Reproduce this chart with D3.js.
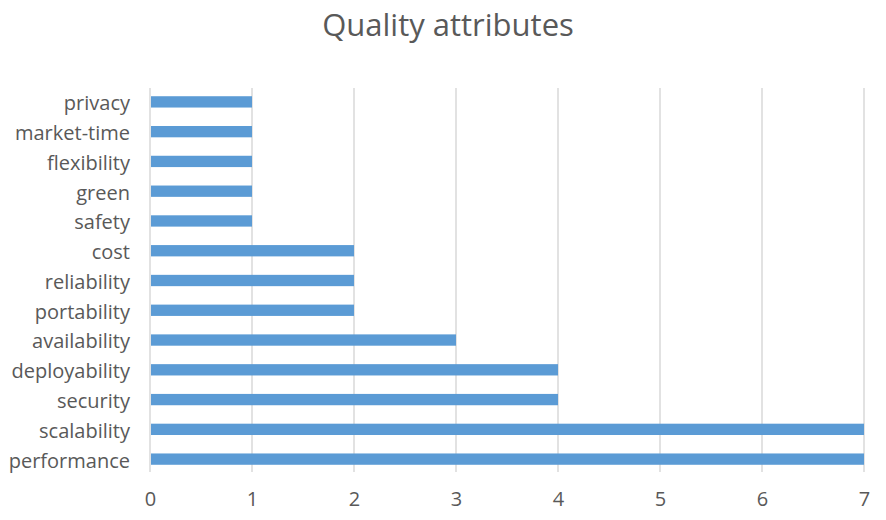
<!DOCTYPE html>
<html>
<head>
<meta charset="utf-8">
<script src="https://cdn.jsdelivr.net/npm/d3@7"></script>
<style>
  body { margin: 0; background: #fff; }
  svg text { font-family: "Open Sans", "Noto Sans", sans-serif; fill: #595959; }
</style>
</head>
<body>
<svg id="chart" width="886" height="520"></svg>
<script>
// data, top to bottom as drawn
var categories = ["privacy", "market-time", "flexibility", "green", "safety", "cost",
  "reliability", "portability", "availability", "deployability", "security",
  "scalability", "performance"];
var counts = [1, 1, 1, 1, 1, 2, 2, 2, 3, 4, 4, 7, 7];
var xTicks = [0, 1, 2, 3, 4, 5, 6, 7];

var svg = d3.select("#chart");
var plotL = 150, plotR = 864, plotT = 87, plotB = 474;

var x = d3.scaleLinear().domain([0, 7]).range([plotL, plotR]);
var y = d3.scaleBand().domain(categories).range([plotT, plotB]).paddingInner(0.62).paddingOuter(0.31);

// title
svg.append("text")
  .attr("x", 448).attr("y", 36)
  .attr("text-anchor", "middle")
  .style("font-size", "31px")
  .text("Quality attributes");

// gridlines
svg.append("g").selectAll("line")
  .data(xTicks)
  .enter().append("line")
  .attr("x1", d => x(d)).attr("x2", d => x(d))
  .attr("y1", plotT + 1).attr("y2", plotB - 2)
  .attr("stroke", "#d9d9d9").attr("stroke-width", 1.5);

// bars
svg.append("g").selectAll("rect")
  .data(categories)
  .enter().append("rect")
  .attr("x", x(0) + 1)
  .attr("y", d => y(d))
  .attr("height", y.bandwidth())
  .attr("width", (d, i) => x(counts[i]) - x(0) - 1)
  .attr("fill", "#5b9bd5");

// x axis
var xAxis = svg.append("g")
  .attr("transform", "translate(0," + (plotB + 18) + ")")
  .call(d3.axisBottom(x).tickValues(xTicks).tickFormat(d3.format("d")).tickSize(0).tickPadding(0));
xAxis.select(".domain").remove();
xAxis.selectAll("text").style("font-size", "20px").attr("fill", "#595959");

// y axis
var yAxis = svg.append("g")
  .attr("transform", "translate(" + (plotL - 20) + ",2)")
  .call(d3.axisLeft(y).tickSize(0).tickPadding(0));
yAxis.select(".domain").remove();
yAxis.selectAll("text").style("font-size", "20px").attr("fill", "#595959");
</script>
</body>
</html>
